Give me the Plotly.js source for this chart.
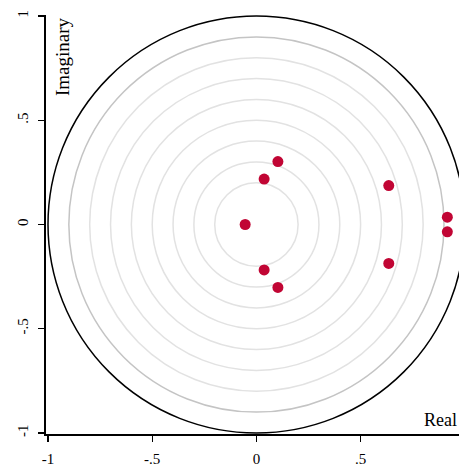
<!DOCTYPE html>
<html>
<head>
<meta charset="utf-8">
<script src="https://cdn.plot.ly/plotly-3.0.1.min.js"></script>
<style>html,body{margin:0;padding:0;background:#fff;}#chart{width:459px;height:467px;}</style>
</head>
<body>
<div id="chart"></div>
<script>
// Eigenvalues (real, imaginary parts)
const realParts = [-0.054, 0.037, 0.037, 0.103, 0.103, 0.635, 0.635, 0.916, 0.916];
const imagParts = [0.0, 0.218, -0.218, 0.302, -0.302, 0.187, -0.187, 0.035, -0.035];
// Reference circles
const gridRadii = [0.2, 0.3, 0.4, 0.5, 0.6, 0.7, 0.8];
const outerGrayRadius = [0.9];
const unitRadius = [1.0];
const xTickVals = [-1, -0.5, 0, 0.5];
const xTickText = ['-1', '-.5', '0', '.5'];
const yTickVals = [-1, -0.5, 0, 0.5, 1];
const yTickText = ['-1', '-.5', '0', '.5', '1'];

function circleShape(r, color, width) {
  return {type: 'circle', xref: 'x', yref: 'y', x0: -r, y0: -r, x1: r, y1: r,
          line: {color: color, width: width}, layer: 'below'};
}
const shapes = []
  .concat(gridRadii.map(r => circleShape(r, '#e2e2e2', 1.5)))
  .concat(outerGrayRadius.map(r => circleShape(r, '#c4c4c4', 1.5)))
  .concat(unitRadius.map(r => circleShape(r, '#000000', 1.5)));

const font = {family: '"Liberation Serif", "DejaVu Serif", serif', color: '#000'};

const data = [{
  type: 'scatter', mode: 'markers', x: realParts, y: imagParts,
  marker: {color: '#c10534', size: 11},
  hoverinfo: 'skip', showlegend: false
}];

const layout = {
  width: 459, height: 467,
  margin: {l: 46, r: 0, t: 15, b: 33},
  paper_bgcolor: '#fff', plot_bgcolor: '#fff',
  font: Object.assign({size: 15}, font),
  showlegend: false,
  xaxis: {range: [-1.0096, 0.972], showgrid: false, zeroline: false,
          showline: true, linecolor: '#000', linewidth: 2,
          ticks: 'outside', ticklen: 6, tickwidth: 1.3, tickcolor: '#000',
          tickvals: xTickVals, ticktext: xTickText, ticklabelstandoff: 4,
          tickfont: Object.assign({size: 15}, font), fixedrange: true},
  yaxis: {range: [-1.005, 1.005], showgrid: false, zeroline: false,
          showline: true, linecolor: '#000', linewidth: 2,
          ticks: 'outside', ticklen: 6, tickwidth: 1.3, tickcolor: '#000',
          tickvals: yTickVals, ticktext: yTickText, tickangle: -90, ticklabelstandoff: 4,
          tickfont: Object.assign({size: 15}, font), fixedrange: true},
  shapes: shapes,
  annotations: [
    {text: 'Imaginary', xref: 'paper', yref: 'paper', x: 0.04, y: 1.0,
     xanchor: 'center', yanchor: 'top', textangle: -90, showarrow: false,
     font: Object.assign({size: 19}, font)},
    {text: 'Real', xref: 'paper', yref: 'paper', x: 1.0, y: 0.0,
     xanchor: 'right', yanchor: 'bottom', showarrow: false, yshift: 2,
     font: Object.assign({size: 18}, font)}
  ]
};

Plotly.newPlot('chart', data, layout, {displayModeBar: false, staticPlot: true});
</script>
</body>
</html>
